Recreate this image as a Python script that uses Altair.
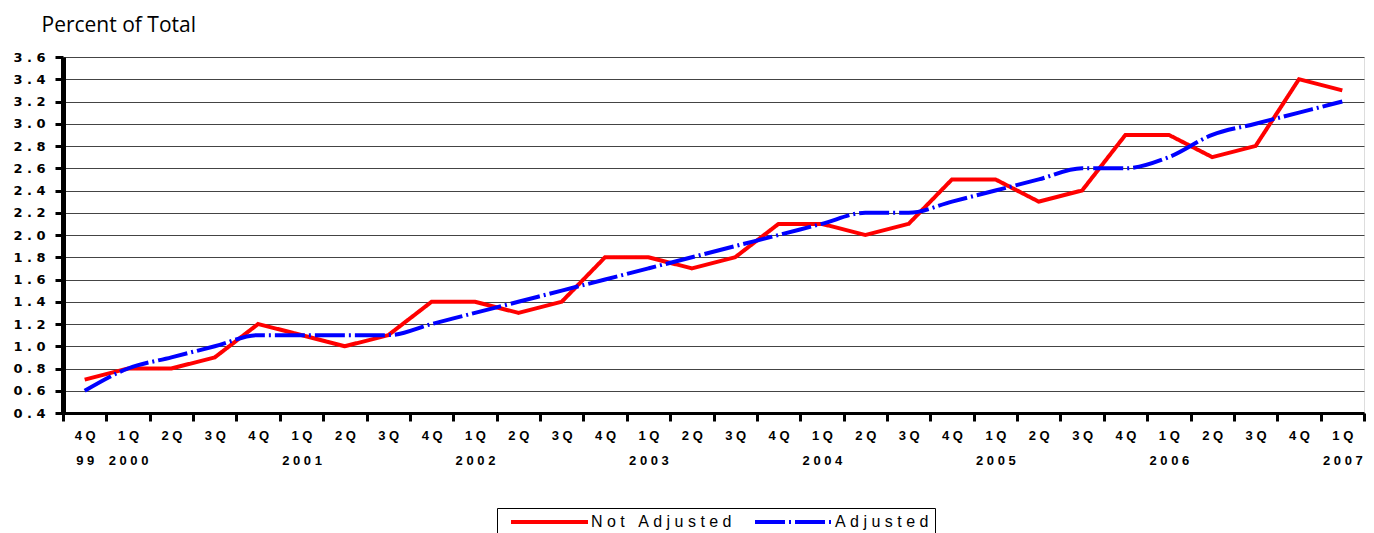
import json
import altair as alt
import pandas as pd

quarters = ["4Q", "1Q", "2Q", "3Q", "4Q", "1Q", "2Q", "3Q", "4Q", "1Q",
            "2Q", "3Q", "4Q", "1Q", "2Q", "3Q", "4Q", "1Q", "2Q", "3Q",
            "4Q", "1Q", "2Q", "3Q", "4Q", "1Q", "2Q", "3Q", "4Q", "1Q"]
years = ["99", "2000", "", "", "", "2001", "", "", "", "2002",
         "", "", "", "2003", "", "", "", "2004", "", "",
         "", "2005", "", "", "", "2006", "", "", "", "2007"]
not_adjusted = [0.7, 0.8, 0.8, 0.9, 1.2, 1.1, 1.0, 1.1, 1.4, 1.4,
                1.3, 1.4, 1.8, 1.8, 1.7, 1.8, 2.1, 2.1, 2.0, 2.1,
                2.5, 2.5, 2.3, 2.4, 2.9, 2.9, 2.7, 2.8, 3.4, 3.3]
adjusted = [0.6, 0.8, 0.9, 1.0, 1.1, 1.1, 1.1, 1.1, 1.2, 1.3,
            1.4, 1.5, 1.6, 1.7, 1.8, 1.9, 2.0, 2.1, 2.2, 2.2,
            2.3, 2.4, 2.5, 2.6, 2.6, 2.7, 2.9, 3.0, 3.1, 3.2]
series_names = ["Not Adjusted", "Adjusted"]

NB = "\u00a0"

def spaced(s):
    return NB.join(list(s))

label_arr = [[spaced(q), spaced(y)] for q, y in zip(quarters, years)]
label_expr = json.dumps(label_arr, ensure_ascii=False) + "[datum.value]"
spacing_expr = "join(split(datum.label, ''), '" + NB + "')"

rows = []
for i in range(len(quarters)):
    rows.append({"i": i, "series": series_names[0], "v": not_adjusted[i]})
    rows.append({"i": i, "series": series_names[1], "v": adjusted[i]})
df = pd.DataFrame(rows)

x_enc = alt.X(
    "i:O",
    bandPosition=0.5,
    scale=alt.Scale(type="band", paddingInner=0, paddingOuter=0),
    axis=alt.Axis(
        title=None, labelAngle=0, tickBand="extent", labelExpr=label_expr,
        labelFont="Liberation Sans", labelFontWeight="bold", labelFontSize=13,
        labelColor="black", labelLineHeight=25, labelPadding=8, labelBaseline="top",
        domainColor="black", domainWidth=3, tickColor="black", tickWidth=3,
        tickSize=8, grid=False,
    ),
)
y_enc = alt.Y(
    "v:Q",
    scale=alt.Scale(domain=[0.4, 3.6], nice=False, zero=False),
    axis=alt.Axis(
        title="Percent of Total", titleAngle=0, titleAlign="left",
        titleBaseline="alphabetic", titleX=-22, titleY=-26,
        titleFont="Open Sans", titleFontWeight="normal", titleFontSize=21,
        titleColor="black",
        values=[round(0.4 + 0.2 * k, 1) for k in range(17)], format=".1f",
        labelExpr=spacing_expr,
        labelFont="DejaVu Sans", labelFontWeight="bold", labelFontSize=13,
        labelColor="black", labelPadding=10,
        domainColor="black", domainWidth=5, tickColor="black", tickWidth=3,
        tickSize=8, grid=True, gridColor="#444444", gridWidth=1,
    ),
)
color_enc = alt.Color(
    "series:N",
    scale=alt.Scale(domain=series_names, range=["#ff0000", "#0000ff"]),
    legend=alt.Legend(
        title=None, orient="none", legendX=434, legendY=451, direction="horizontal",
        symbolType="M0,0H14", symbolSize=121, symbolStrokeWidth=4,
        labelExpr=spacing_expr,
        labelFont="Liberation Sans", labelFontSize=16, labelColor="black",
        strokeColor="black", padding=6, columnPadding=15, labelOffset=72,
    ),
)
dash_enc = alt.StrokeDash(
    "series:N",
    scale=alt.Scale(domain=series_names, range=[[1, 0], [30, 4, 2, 4]]),
    legend=None,
)

base = alt.Chart(df)
red = base.transform_filter(alt.datum.series == series_names[0]).mark_line(
    strokeWidth=4, interpolate="linear"
).encode(x=x_enc, y=y_enc, color=color_enc, strokeDash=dash_enc)
blue = base.transform_filter(alt.datum.series == series_names[1]).mark_line(
    strokeWidth=4, interpolate="monotone"
).encode(x=x_enc, y=y_enc, color=color_enc, strokeDash=dash_enc)

chart = alt.layer(red, blue).properties(
    width=1301, height=356,
    autosize=alt.AutoSizeParams(type="none"),
    padding={"left": 55, "top": 49, "right": 2, "bottom": 120},
).configure_view(stroke="black", strokeWidth=4).configure(background="white")

chart.save("out.html", embed_options={"renderer": "svg", "actions": False})
